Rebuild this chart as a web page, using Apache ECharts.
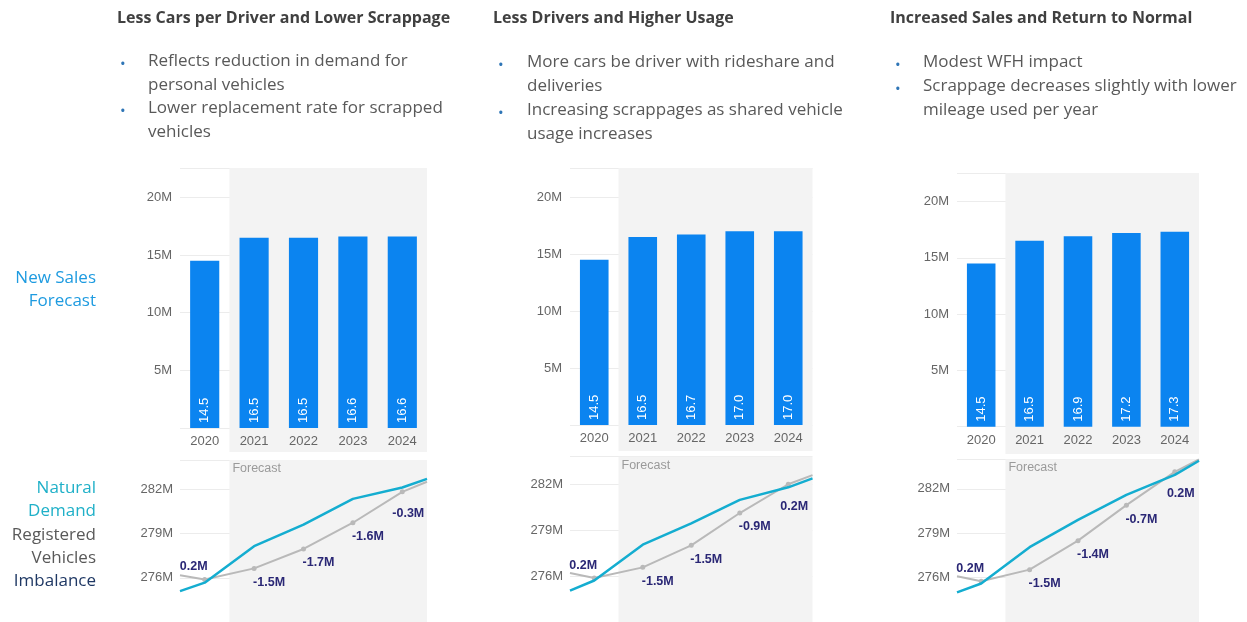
<!DOCTYPE html>
<html>
<head>
<meta charset="utf-8">
<script src="https://cdn.jsdelivr.net/npm/echarts@6/dist/echarts.min.js"></script>
<style>
html,body{margin:0;padding:0;background:#fff;}
#chart{width:1247px;height:622px;}
</style>
</head>
<body>
<div id="chart"></div>
<script>
// ---------------- DATA ----------------
const years = ['2020', '2021', '2022', '2023', '2024'];
const titles = ['Less Cars per Driver and Lower Scrappage', 'Less Drivers and Higher Usage', 'Increased Sales and Return to Normal'];
const bulletsA = ['Reflects reduction in demand for\npersonal vehicles', 'Lower replacement rate for scrapped\nvehicles'];
const bulletsB = ['More cars be driver with rideshare and\ndeliveries', 'Increasing scrappages as shared vehicle\nusage increases'];
const bulletsC = ['Modest WFH impact', 'Scrappage decreases slightly with lower\nmileage used per year'];

const salesA = [14.5, 16.5, 16.5, 16.6, 16.6];
const salesB = [14.5, 16.5, 16.7, 17.0, 17.0];
const salesC = [14.5, 16.5, 16.9, 17.2, 17.3];

const lineYears = [2019.5, 2020, 2021, 2022, 2023, 2024, 2024.5];
const demandA = [275.1, 275.67, 278.15, 279.61, 281.36, 282.13, 282.72];
const registeredA = [276.17, 275.88, 276.64, 277.96, 279.74, 281.84, 282.52];
const imbalanceA = [0.2, -1.5, -1.7, -1.6, -0.3];

const demandB = [275.05, 275.71, 278.05, 279.45, 280.98, 281.8, 282.38];
const registeredB = [276.2, 275.87, 276.57, 278.01, 280.12, 282.0, 282.6];
const imbalanceB = [0.2, -1.5, -1.5, -0.9, 0.2];

const demandC = [275.0, 275.6, 278.06, 279.9, 281.6, 282.95, 283.9];
const registeredC = [276.1, 275.76, 276.54, 278.5, 280.9, 283.15, 284.0];
const imbalanceC = [0.2, -1.5, -1.4, -0.7, 0.2];

const barTicks = { min: 0, max: 22.5, interval: 5 };
const lineTicks = { min: 273, interval: 3 };

// ---------------- LAYOUT / STYLE ----------------
const W = 1247, H = 622;
const panels = [
  { sales: salesA, demand: demandA, reg: registeredA, imb: imbalanceA, bullets: bulletsA,
    titleX: 117, bulletX: 119, textX: 148, bulletTops: [49, 96],
    left: 180, right: 427, barTop: 168.4, barBase: 428, bgTop: 168, bgBottom: 452,
    lineTop: 460, lineMax: 284, ppm: 17.17 },
  { sales: salesB, demand: demandB, reg: registeredB, imb: imbalanceB, bullets: bulletsB,
    titleX: 493, bulletX: 497, textX: 527, bulletTops: [50, 98],
    left: 570, right: 812.5, barTop: 168.5, barBase: 425, bgTop: 168, bgBottom: 451,
    lineTop: 456.7, lineMax: 283.8, ppm: 17.4 },
  { sales: salesC, demand: demandC, reg: registeredC, imb: imbalanceC, bullets: bulletsC,
    titleX: 890, bulletX: 894, textX: 923, bulletTops: [50, 74],
    left: 957, right: 1199, barTop: 173.3, barBase: 426.7, bgTop: 173, bgBottom: 454,
    lineTop: 459.3, lineMax: 284, ppm: 16.67 }
];

const BAR = '#0b84f0';
const TEAL = '#14add0';
const GREY = '#b9b9b9';
const NAVY = '#2a2775';
const BG = '#f3f3f3';
const AXIS_TXT = '#666666';
const FONT = 'Liberation Sans, Arial, sans-serif';
const TFONT = '"Open Sans", Lato, sans-serif';

const grid = [], xAxis = [], yAxis = [], series = [], graphic = [];

panels.forEach((p, k) => {
  // background grid (forecast shading for the bar area)
  const gBg = grid.length;
  grid.push({ left: p.left, width: p.right - p.left, top: p.bgTop, height: p.bgBottom - p.bgTop });
  xAxis.push({ gridIndex: gBg, type: 'value', min: 0, max: 5, show: false });
  yAxis.push({ gridIndex: gBg, type: 'value', min: 0, max: 1, show: false });
  series.push({
    type: 'line', xAxisIndex: xAxis.length - 1, yAxisIndex: yAxis.length - 1,
    data: [[0, 0]], symbol: 'none', lineStyle: { opacity: 0 }, silent: true, z: -1,
    markArea: { silent: true, itemStyle: { color: BG }, data: [[{ xAxis: 1 }, { xAxis: 5 }]] }
  });

  // bar grid
  const gBar = grid.length;
  grid.push({ left: p.left, width: p.right - p.left, top: p.barTop, height: p.barBase - p.barTop });
  xAxis.push({
    gridIndex: gBar, type: 'category', data: years, z: 1,
    axisLine: { show: false }, axisTick: { show: false },
    axisLabel: { color: AXIS_TXT, fontSize: 13, fontFamily: FONT, margin: 7 }
  });
  yAxis.push({
    gridIndex: gBar, type: 'value', min: barTicks.min, max: barTicks.max, interval: barTicks.interval, z: 1,
    axisLine: { show: false }, axisTick: { show: false },
    axisLabel: { color: AXIS_TXT, fontSize: 13, fontFamily: FONT, margin: 8, showMinLabel: false, showMaxLabel: false,
      formatter: v => v + 'M' },
    splitLine: { lineStyle: { color: '#ececec', width: 1 } }
  });
  series.push({
    type: 'bar', xAxisIndex: xAxis.length - 1, yAxisIndex: yAxis.length - 1,
    data: p.sales, barWidth: '59%', itemStyle: { color: BAR }, z: 3,
    label: { show: true, position: 'insideBottom', rotate: 90, align: 'left', verticalAlign: 'middle',
      distance: 5, color: '#ffffff', fontSize: 13, fontFamily: FONT,
      formatter: d => d.value.toFixed(1) }
  });

  // line grid
  const gLine = grid.length;
  const bottomPx = p.lineTop + (p.lineMax - lineTicks.min) * p.ppm;
  grid.push({ left: p.left, width: p.right - p.left, top: p.lineTop, bottom: H - bottomPx });
  xAxis.push({ gridIndex: gLine, type: 'value', min: lineYears[0], max: lineYears[lineYears.length - 1], show: false });
  yAxis.push({
    gridIndex: gLine, type: 'value', min: lineTicks.min, max: p.lineMax, interval: lineTicks.interval, z: 1,
    axisLine: { show: false }, axisTick: { show: false },
    axisLabel: { color: AXIS_TXT, fontSize: 13, fontFamily: FONT, margin: 7, showMinLabel: false, showMaxLabel: false,
      formatter: v => v + 'M' },
    splitLine: { lineStyle: { color: '#ececec', width: 1 } }
  });
  const xi = xAxis.length - 1, yi = yAxis.length - 1;
  series.push({
    type: 'line', xAxisIndex: xi, yAxisIndex: yi, z: -1, silent: true,
    data: [[lineYears[0], lineTicks.min]], symbol: 'none', lineStyle: { opacity: 0 },
    markArea: {
      silent: true, itemStyle: { color: BG },
      label: { show: true, position: 'insideTopLeft', distance: 3, offset: [0, -1], color: '#9a9a9a', fontSize: 12.5, fontFamily: FONT },
      data: [[{ name: 'Forecast', xAxis: 2020.5 }, { xAxis: lineYears[lineYears.length - 1] }]]
    }
  });
  // registered vehicles with imbalance labels
  const regData = lineYears.map((x, i) => {
    const yi2 = years.indexOf(String(x));
    if (yi2 < 0) return { value: [x, p.reg[i]], symbol: 'none' };
    const v = p.imb[yi2];
    let lab;
    if (yi2 === 0) lab = { position: 'top', offset: [-11, 1] };
    else if (yi2 === years.length - 1) lab = { position: 'bottom', offset: [6, 8] };
    else lab = { position: 'bottom', offset: [15, 0] };
    return {
      value: [x, p.reg[i]],
      label: Object.assign({ show: true, formatter: v.toFixed(1) + 'M', color: NAVY, fontSize: 12.5,
        fontWeight: 'bold', fontFamily: FONT }, lab)
    };
  });
  series.push({
    type: 'line', xAxisIndex: xi, yAxisIndex: yi, z: 3, data: regData,
    symbol: 'circle', symbolSize: 5, itemStyle: { color: GREY },
    lineStyle: { color: GREY, width: 2 }
  });
  series.push({
    type: 'line', xAxisIndex: xi, yAxisIndex: yi, z: 4,
    data: lineYears.map((x, i) => [x, p.demand[i]]),
    symbol: 'none', lineStyle: { color: TEAL, width: 2.5 }
  });

  // titles and bullets
  graphic.push({ type: 'text', left: p.titleX, top: 10,
    style: { text: titles[k], fill: '#404040', font: 'bold 16px ' + TFONT } });
  p.bullets.forEach((b, j) => {
    graphic.push({ type: 'text', x: p.bulletX + 1, y: p.bulletTops[j] + 16,
      style: { text: '•', fill: '#2e75b6', font: '15px ' + TFONT, verticalAlign: 'middle' } });
    graphic.push({ type: 'text', left: p.textX, top: p.bulletTops[j],
      style: { text: b, fill: '#595959', font: '17px ' + TFONT, lineHeight: 24 } });
  });
});

// left side labels
const sideLabels = [
  ['New Sales', 278, '#1e9be0'], ['Forecast', 301, '#1e9be0'],
  ['Natural', 488, '#1fb0c8'], ['Demand', 511, '#1fb0c8'],
  ['Registered', 535, '#595959'], ['Vehicles', 558, '#595959'],
  ['Imbalance', 581, '#1f3864']
];
sideLabels.forEach(s => {
  graphic.push({ type: 'text', x: 96, y: s[1],
    style: { text: s[0], fill: s[2], font: '17px ' + TFONT, align: 'right', verticalAlign: 'middle' } });
});

const chart = echarts.init(document.getElementById('chart'), null, { renderer: 'canvas' });
chart.setOption({
  animation: false,
  backgroundColor: '#ffffff',
  grid, xAxis, yAxis, series, graphic
});
</script>
</body>
</html>
